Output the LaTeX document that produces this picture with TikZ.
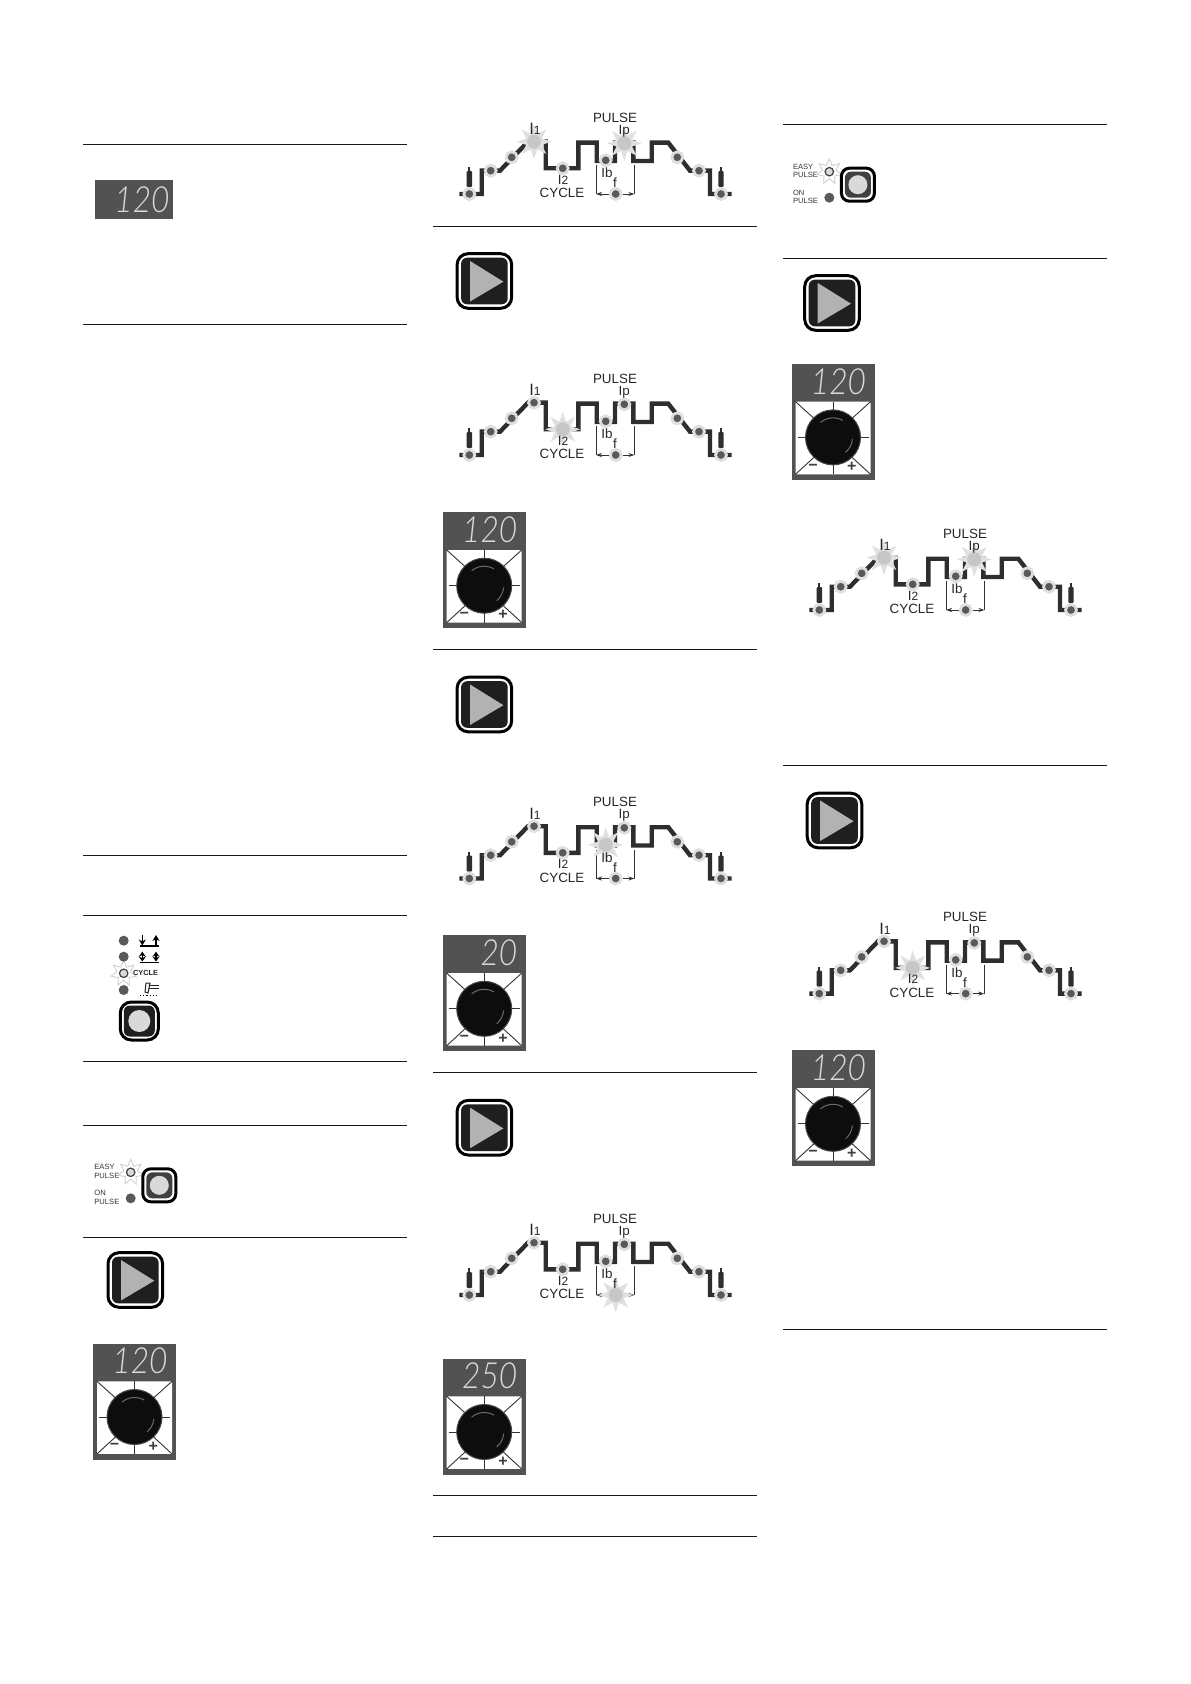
\documentclass[tikz,border=0pt]{standalone}
\usepackage{fontspec}
\setmainfont{Liberation Sans}
\newfontfamily\dispfont[FakeStretch=0.88]{Lato Light Italic}
\usetikzlibrary{positioning,arrows.meta,shapes.geometric}
\tikzset{
  rulerline/.style={line width=0.5pt, black!90},
  trace/.style={line width=2.2pt, black!82, line join=miter},
  thinline/.style={line width=0.35pt, black!80},
  halodot/.style={circle, fill=black!65, draw=black!13, line width=1.4pt, minimum size=5.5pt, inner sep=0pt},
  litstar/.style={star, star points=8, star point ratio=2.1, fill=black!12, minimum size=17.5pt, inner sep=0pt},
  litcore/.style={circle, fill=black!22, minimum size=7pt, inner sep=0pt},
  lbl/.style={font=\fontsize{6.7}{7}\selectfont, text=black!85, inner sep=0pt},
  tinylbl/.style={font=\fontsize{3.8}{4}\selectfont, text=black!80, inner sep=0pt, anchor=west},
  led/.style={circle, fill=black!65, minimum size=5pt, inner sep=0pt},
  ledon/.style={circle, fill=black!15, draw=black!75, line width=0.6pt, minimum size=4.2pt, inner sep=0pt},
  ledstar/.style={star, star points=7, star point ratio=1.9, draw=black!20, fill=white, line width=0.4pt, minimum size=13pt, inner sep=0pt},
  btnouter/.style={rectangle, draw=black, fill=white, line width=1.5pt, rounded corners=5.5pt, minimum size=#1, inner sep=0pt},
  btninner/.style={rectangle, fill=black!88, rounded corners=3pt, minimum size=#1, inner sep=0pt},
  btndisc/.style={circle, fill=black!15, minimum size=#1, inner sep=0pt},
  panelbox/.style={fill=black!68},
  display/.style={font=\dispfont\fontsize{18}{18}\selectfont, text=black!15, inner sep=0pt, anchor=east},
  signlbl/.style={font=\bfseries\fontsize{8}{8}\selectfont, text=black!75, inner sep=0pt},
  bottle/.style={fill=black!82, rounded corners=0.5pt},
  pics/weld/.style={code={
    \draw[trace] (19.3,94) -- (41.7,94) -- (41.7,70.7) -- (60,70.7) -- (88,41.7) -- (105.7,41.7) -- (105.7,68.3)
      -- (138.3,68.3) -- (138.3,42.7) -- (156.7,42.7) -- (156.7,61) -- (175,61) -- (175,42.7) -- (193.3,42.7)
      -- (193.3,61) -- (211.7,61) -- (211.7,42.7) -- (228.3,42.7) -- (250,70.7) -- (270,70.7) -- (270,94) -- (291.7,94);
    \foreach \bx in {29.3,281}{
      \fill[bottle] (\bx-2.7,71) rectangle (\bx+2.7,87);
      \fill[black!82] (\bx-1,67) rectangle (\bx+1,71);
    }
    \foreach \n/\px/\py in {st/29.3/94, a/50.7/70.7, b/71.7/57.3, i1/94/41.7, i2/122.7/68.3, ib/165.7/60.3,
                            ip/184.3/43.3, f/175.7/94, c/237.3/57.3, d/259/70.7, e/281/94}{
      \node[halodot] (\n) at (\px,\py) {};
    }
    \coordinate (bl) at (156,94);
    \coordinate (br) at (194.3,94);
    \draw[thinline] (156,65) -- (bl);
    \draw[thinline] (194.3,65) -- (br);
    \draw[thinline, -{Stealth[length=3pt,width=2pt]}] (f) -- (bl);
    \draw[thinline, -{Stealth[length=3pt,width=2pt]}] (f) -- (br);
    \foreach \d in \litlist {
      \node[litstar] (s\d) at (\d) {};
      \node[litcore] (k\d) at (\d) {};
    }
    \node[lbl] (pl) at (175,17.5) {PULSE};
    \node[lbl] (tp) at (184.3,31) {Ip};
    \node[lbl, font=\fontsize{8.2}{8}\selectfont] (t1) at (95,29) {I{\fontsize{6}{6}\selectfont 1}};
    \node[lbl] (t2) at (123,79.5) {I{\fontsize{6}{6}\selectfont 2}};
    \node[lbl] (cy) at (122,93) {CYCLE};
    \node[lbl] (tb) at (167,73) {Ib};
    \node[lbl] (tf) at (175,83) {f};
  }},
  pics/knob/.style={code={
    \fill[panelbox] (0,0) rectangle (83,116);
    \node[display] (dg) at (75,17.5) {\val};
    \fill[white, rounded corners=0.5pt] (4,37.7) rectangle (79,110.3);
    \foreach \ax/\ay/\bx/\by in {4/37.7/62/90, 79/37.7/21/90, 4/110.3/62/57, 79/110.3/21/57,
                                  41.5/37.7/41.5/50, 41.5/110.3/41.5/95, 6/73.4/20/73.4, 77/73.4/63/73.4}{
      \draw[thinline, line width=0.45pt] (\ax,\ay) -- (\bx,\by);
    }
    \node[circle, fill=black!95, draw=black!72, line width=0.5pt, minimum size=27.5pt, inner sep=0pt] (kn) at (41.5,73.4) {};
    \draw[black!58, line width=0.5pt] (41.5,73.4) ++(-130:19.5) arc[start angle=-130, end angle=-60, radius=19.5];
    \draw[black!58, line width=0.5pt] (41.5,73.4) ++(5:19.5) arc[start angle=5, end angle=50, radius=19.5];
    \node[signlbl] (mn) at (21.6,103) {\textminus};
    \node[signlbl] (pp) at (60.3,103) {+};
  }},
  pics/playbtn/.style={code={
    \node[btnouter=27.3pt] (ob) at (0,0) {};
    \node[btninner=23.3pt] (ib) at (0,0) {};
    \fill[black!30] (-14.3,-20) -- (19,0.7) -- (-14.3,20.5) -- cycle;
  }},
  pics/easy/.style={code={
    \node[tinylbl] (ea) at (-36.7,-5) {EASY};
    \node[tinylbl] (pa) at (-36.7,3.4) {PULSE};
    \node[tinylbl] (oa) at (-36.7,20.7) {ON};
    \node[tinylbl] (pb) at (-36.7,29.4) {PULSE};
    \node[ledstar] (st) at (0,0) {};
    \node[ledon] (lo) at (0,0) {};
    \node[led] (lf) at (0,26) {};
    \node[btnouter=16.5pt, rounded corners=4pt] (ob) at (28.6,13) {};
    \node[btninner=13pt, fill=black!75] (ib) at (28.6,13) {};
    \node[btndisc=9.5pt] (dc) at (28.6,13) {};
  }}
}
\begin{document}
\begin{tikzpicture}[x=0.5pt, y=-0.5pt]
\useasboundingbox (0,0) rectangle (1190,1684);
% rules of the three columns
\foreach \xa/\yy in {83/145, 83/325, 83/855, 83/915, 83/1061, 83/1125.5, 83/1237,
                     433/226.3, 433/649, 433/1072, 433/1495, 433/1536,
                     783/125, 783/259, 783/765, 783/1329}{
  \draw[rulerline] (\xa,\yy) -- ++(324,0);
}
% welding cycle curves
\foreach \ox/\oy/\litlist in {440/100/{i1,ip}, 440/361/{i2}, 440/784.5/{ib}, 440/1201/{f}, 790/516/{i1,ip}, 790/899.6/{i2}}{
  \pic at (\ox,\oy) {weld};
}
\foreach \ox/\oy in {484.4/281, 484.4/704.5, 484.4/1127.7, 135.3/1280, 832/303, 834.5/820.5}{
  \pic at (\ox,\oy) {playbtn};
}
\foreach \ox/\oy/\val in {442.7/512.3/120, 442.7/935.4/20, 442.7/1358.6/250, 93/1343.6/120, 791.5/364/120, 791.5/1050.4/120}{
  \pic at (\ox,\oy) {knob};
}
% plain display
\fill[panelbox] (94.5,180.4) rectangle (173,219);
\node[display] (dsp) at (170,200) {120};
% mode selector
\node[ledstar] (sc) at (123.7,973.3) {};
\foreach \n/\yy in {la/940.7, lb/956.7, ld/990}{
  \node[led] (\n) at (123.7,\yy) {};
}
\node[ledon] (lc) at (123.7,973.3) {};
\node[font=\bfseries\fontsize{3.7}{4}\selectfont, text=black!85, inner sep=0pt, right=2.1pt of lc] (cyc) {CYCLE};
\draw[line width=0.8pt, -{Stealth[length=3pt,width=3.5pt]}] (142.3,935) -- (142.3,945.5);
\draw[line width=0.8pt, -{Stealth[length=3pt,width=3.5pt]}] (156,945.5) -- (156,935);
\draw[line width=0.6pt] (140,946) -- (159,946);
\foreach \ax in {142.3,156}{
  \draw[line width=0.8pt, {Stealth[length=2.5pt,width=3.5pt]}-{Stealth[length=2.5pt,width=3.5pt]}] (\ax,951.7) -- (\ax,961.5);
}
\draw[line width=0.6pt] (140,962.5) -- (159,962.5);
\draw[line width=0.5pt, black!85] (146,983) -- (150,983) -- (148,993) -- (145,992) -- cycle;
\draw[line width=0.5pt, black!85] (150,985) -- (159,985) (149,988) -- (159,988);
\draw[line width=0.6pt, densely dotted] (140,995.5) -- (159,995.5);
\node[btnouter=19pt] (cob) at (139.3,1021) {};
\node[btninner=15.5pt] (cib) at (139.3,1021) {};
\node[btndisc=11pt] (cdc) at (139.3,1021) {};
% easy pulse
\foreach \ox/\oy in {130.7/1172.3, 829.3/171.7}{
  \pic at (\ox,\oy) {easy};
}
\end{tikzpicture}
\end{document}
